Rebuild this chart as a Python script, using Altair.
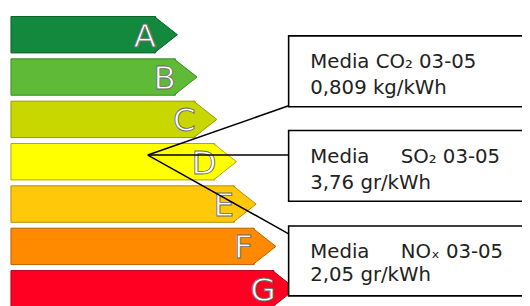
import altair as alt
import pandas as pd

# ---- data ----
classes = ["A", "B", "C", "D", "E", "F", "G"]
lengths = [147, 167, 187, 207, 227, 247, 267]
fills = ["#12893c", "#5fba37", "#c9d700", "#ffff00", "#ffc90a", "#ff8a00", "#ff0022"]
edges = ["#0b5e29", "#3d8a22", "#8f9900", "#b3a600", "#b38a00", "#b35f00", "#b30018"]

box_line1 = ["Media CO\u2082 03-05",
             "Media\u00a0\u00a0\u00a0\u00a0 SO\u2082 03-05",
             "Media\u00a0\u00a0\u00a0\u00a0 NO\u2093 03-05"]
box_line2 = ["0,809 kg/kWh", "3,76 gr/kWh", "2,05 gr/kWh"]

df = pd.DataFrame({"cls": classes, "len": lengths})
cdf = pd.DataFrame({"l1": box_line1, "l2": box_line2})

# ---- layout (chart pixel coordinates) ----
W, H = 522, 298
anchor = (142, 147)
boxes = [  # top, bottom, line end y, baseline1, baseline2
    (26, 98, 97, 58.7, 85.3),
    (122, 194, 147, 155.3, 182),
    (219, 290, 227, 251.3, 275.3),
]
box_left = 285

X = alt.Scale(domain=[0, 519], range=[3, 522])
Y = alt.Scale(domain=classes, range=[6.3, 301.3], paddingInner=0.14, paddingOuter=0)
col = alt.Scale(domain=classes, range=fills)
edge = alt.Scale(domain=classes, range=edges)

enc = dict(
    x=alt.X("len:Q", scale=X, axis=None),
    y=alt.Y("cls:N", scale=Y, axis=None),
)

base = alt.Chart(df)
bars = base.mark_bar(strokeWidth=1).encode(
    fill=alt.Fill("cls:N", scale=col, legend=None),
    stroke=alt.Stroke("cls:N", scale=edge, legend=None),
    **enc,
)
tip_path = "M-0.08,-1L1.19,0L-0.08,1"
tips = base.mark_point(shape=tip_path, size=1369, filled=True, opacity=1, strokeWidth=1).encode(
    fill=alt.Fill("cls:N", scale=col, legend=None),
    stroke=alt.Stroke("cls:N", scale=edge, legend=None),
    **enc,
)
letters = base.mark_text(
    font="DejaVu Sans", fontSize=33, fill="white", stroke="#6b6b6b", strokeWidth=0.9,
    align="center", baseline="alphabetic", dx=-11, dy=12,
).encode(text="cls:N", **enc)

layers = [bars, tips, letters]

for i, (top, bot, ly, b1, b2) in enumerate(boxes):
    row = alt.Chart(cdf.iloc[[i]])
    layers.append(row.mark_rule(color="black", strokeWidth=1.5).encode(
        x=alt.value(anchor[0]), y=alt.value(anchor[1]),
        x2=alt.value(box_left), y2=alt.value(ly)))
for i, (top, bot, ly, b1, b2) in enumerate(boxes):
    row = alt.Chart(cdf.iloc[[i]])
    layers.append(row.mark_rect(fill="white", stroke="black", strokeWidth=1.6).encode(
        x=alt.value(box_left), x2=alt.value(560), y=alt.value(top), y2=alt.value(bot)))
    layers.append(row.mark_text(font="DejaVu Sans", fontSize=20, color="#222",
                                align="left", baseline="alphabetic").encode(
        x=alt.value(307), y=alt.value(b1), text="l1:N"))
    layers.append(row.mark_text(font="DejaVu Sans", fontSize=20, color="#222",
                                align="left", baseline="alphabetic").encode(
        x=alt.value(307), y=alt.value(b2), text="l2:N"))

chart = alt.layer(*layers).properties(
    width=W, height=H, autosize=alt.AutoSizeParams(type="none"), padding=0
).configure_view(stroke=None)

chart.save("out.html", embed_options={"renderer": "svg", "actions": False})
